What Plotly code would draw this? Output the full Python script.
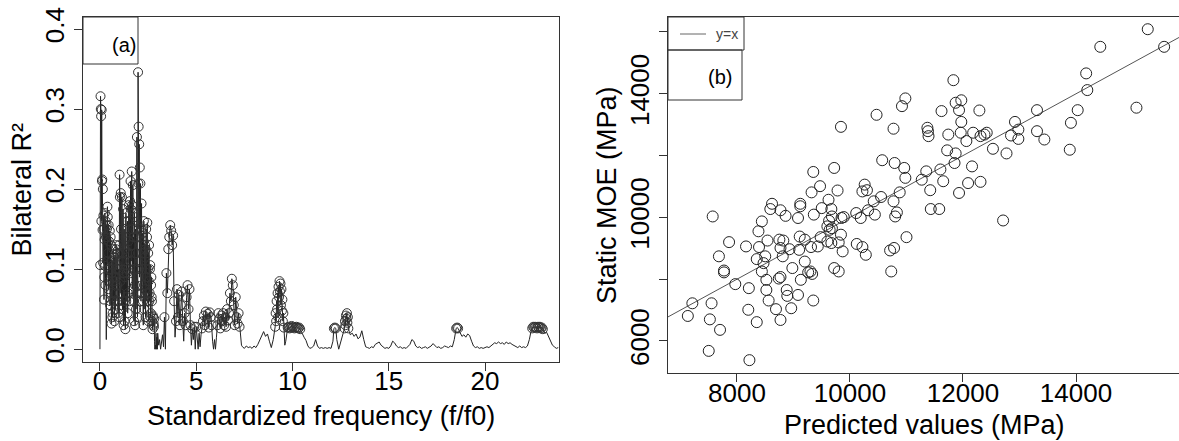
import plotly.graph_objects as go

W, H = 1179, 441
FONT = "Liberation Sans, Arial, sans-serif"

# ---------------- panel (a) data: bilateral R2 vs standardized frequency ----------------
freq_low = [0.00,0.03,0.06,0.09,0.12,0.15,0.18,0.21,0.24,0.27,
            0.30,0.33,0.36,0.39,0.42,0.45,0.48,0.51,0.54,0.57,
            0.60,0.63,0.66,0.69,0.72,0.75,0.78,0.81,0.84,0.87,
            0.90,0.93,0.96,0.99,1.02,1.05,1.08,1.11,1.14,1.17,
            1.20,1.23,1.26,1.29,1.32,1.35,1.38,1.41,1.44,1.47,
            1.50,1.53,1.56,1.59,1.62,1.65,1.68,1.71,1.74,1.77,
            1.80,1.83,1.86,1.89,1.92,1.95,1.98,2.01,2.04,2.07,
            2.10,2.13,2.16,2.19,2.22,2.25,2.28,2.31,2.34,2.37,
            2.40,2.43,2.46,2.49,2.52,2.55,2.58,2.61,2.64,2.67,
            2.70,2.73,2.76,2.79,2.82,2.85,2.88,2.91,2.94,2.97]
r2_low = [0.000,0.316,0.291,0.299,0.212,0.200,0.167,0.062,0.137,0.104,
          0.160,0.012,0.150,0.178,0.120,0.155,0.085,0.148,0.060,0.130,
          0.032,0.110,0.045,0.125,0.090,0.035,0.118,0.070,0.130,0.100,
          0.080,0.120,0.060,0.040,0.218,0.070,0.195,0.110,0.190,0.050,
          0.175,0.030,0.150,0.090,0.025,0.170,0.065,0.120,0.045,0.100,
          0.180,0.060,0.185,0.210,0.110,0.222,0.075,0.205,0.140,0.035,
          0.165,0.030,0.120,0.070,0.265,0.040,0.346,0.278,0.256,0.227,
          0.207,0.060,0.182,0.100,0.145,0.030,0.160,0.080,0.130,0.040,
          0.150,0.060,0.158,0.100,0.035,0.130,0.070,0.105,0.045,0.090,
          0.060,0.025,0.040,0.032,0.038,0.000,0.005,0.020,0.000,0.002]

freq_low_b = [0.015,0.045,0.075,0.105,0.135,0.165,0.195,0.225,0.255,0.285,
              0.315,0.345,0.375,0.405,0.435,0.465,0.495,0.525,0.555,0.585,
              0.615,0.645,0.675,0.705,0.735,0.765,0.795,0.825,0.855,0.885,
              0.915,0.945,0.975,1.005,1.035,1.065,1.095,1.125,1.155,1.185,
              1.215,1.245,1.275,1.305,1.335,1.365,1.395,1.425,1.455,1.485,
              1.515,1.545,1.575,1.605,1.635,1.665,1.695,1.725,1.755,1.785,
              1.815,1.845,1.875,1.905,1.935,1.965,1.995,2.025,2.055,2.085,
              2.115,2.145,2.175,2.205,2.235,2.265,2.295,2.325,2.355,2.385,
              2.415,2.445,2.475,2.505,2.535,2.565,2.595,2.625,2.655,2.685,
              2.715,2.745,2.775,2.805,2.835,2.865,2.895,2.925,2.955,2.985]
r2_low_b = [0.105,0.300,0.160,0.210,0.149,0.108,0.150,0.090,0.170,0.080,
            0.140,0.155,0.110,0.165,0.075,0.135,0.100,0.055,0.140,0.070,
            0.095,0.040,0.105,0.060,0.115,0.085,0.050,0.125,0.090,0.060,
            0.105,0.045,0.100,0.130,0.190,0.085,0.150,0.055,0.120,0.095,
            0.060,0.110,0.035,0.125,0.140,0.060,0.095,0.160,0.070,0.135,
            0.120,0.160,0.095,0.175,0.130,0.180,0.150,0.100,0.060,0.170,
            0.080,0.150,0.050,0.140,0.100,0.070,0.207,0.150,0.090,0.130,
            0.110,0.150,0.070,0.120,0.060,0.135,0.050,0.115,0.075,0.125,
            0.090,0.140,0.070,0.120,0.085,0.060,0.100,0.040,0.080,0.065,
            0.035,0.042,0.030,0.028,0.010,0.002,0.000,0.008,0.015,0.000]

freq_mid = [3.00,3.05,3.10,3.15,3.20,3.25,3.30,3.35,3.40,3.45,
            3.50,3.55,3.60,3.65,3.70,3.75,3.80,3.85,3.90,3.95,
            4.00,4.05,4.10,4.15,4.20,4.25,4.30,4.35,4.40,4.45,
            4.50,4.55,4.60,4.65,4.70,4.75,4.80,4.85,4.90,4.95,
            5.00,5.05,5.10,5.15,5.20,5.25,5.30,5.35,5.40,5.45,
            5.50,5.55,5.60,5.65,5.70,5.75,5.80,5.85,5.90,5.95,
            6.00,6.05,6.10,6.15,6.20,6.25,6.30,6.35,6.40,6.45,
            6.50,6.55,6.60,6.65,6.70,6.75,6.80,6.85,6.90,6.95,
            7.00,7.05,7.10,7.15,7.20,7.25,7.30,7.35]
r2_mid = [0.020,0.005,0.012,0.000,0.010,0.018,0.003,0.040,0.000,0.095,
          0.070,0.125,0.140,0.155,0.148,0.130,0.142,0.060,0.015,0.035,
          0.075,0.040,0.068,0.030,0.055,0.072,0.035,0.010,0.045,0.030,
          0.065,0.080,0.050,0.075,0.030,0.005,0.025,0.012,0.028,0.000,
          0.028,0.010,0.000,0.020,0.003,0.018,0.026,0.035,0.042,0.030,
          0.047,0.038,0.044,0.027,0.046,0.040,0.030,0.010,0.000,0.012,
          0.000,0.015,0.030,0.045,0.038,0.026,0.042,0.035,0.045,0.030,
          0.040,0.028,0.050,0.036,0.045,0.070,0.060,0.088,0.080,0.055,
          0.030,0.065,0.040,0.032,0.045,0.028,0.020,0.005]

freq_high = [7.4,7.5,7.6,7.7,7.8,7.9,8.0,8.1,8.2,8.3,
             8.4,8.5,8.6,8.7,8.8,8.9,9.0,
             9.1,9.125,9.15,9.175,9.2,9.225,9.25,9.275,9.3,9.325,9.35,
             9.375,9.4,9.425,9.45,9.475,9.5,9.525,9.55,9.575,9.6,
             9.65,9.7,9.75,9.8,9.85,9.9,9.95,10.0,10.05,10.1,
             10.15,10.2,10.25,10.3,10.35,10.4,10.5,10.6,10.7,10.8,
             10.9,11.0,11.1,11.2,11.3,11.4,11.5,11.6,11.7,11.8,
             11.9,12.0,12.1,12.15,12.2,12.25,12.3,12.4,12.5,12.6,
             12.7,12.725,12.75,12.775,12.8,12.825,12.85,12.875,12.9,12.95,
             13.0,13.1,13.2,13.3,13.4,13.5,13.6,13.7,13.8,13.9,
             14.0,14.1,14.2,14.3,14.4,14.5,14.6,14.7,14.8,14.9,
             15.0,15.1,15.2,15.3,15.4,15.5,15.6,15.7,15.8,15.9,
             16.0,16.1,16.2,16.3,16.4,16.5,16.6,16.7,16.8,16.9,
             17.0,17.1,17.2,17.3,17.4,17.5,17.6,17.7,17.8,17.9,
             18.0,18.1,18.2,18.3,18.4,18.5,18.55,18.6,18.7,18.8,
             18.9,19.0,19.1,19.2,19.3,19.4,19.5,19.6,19.7,19.8,
             19.9,20.0,20.1,20.2,20.3,20.4,20.5,20.6,20.7,20.8,
             20.9,21.0,21.1,21.2,21.3,21.4,21.5,21.6,21.7,21.8,
             21.9,22.0,22.1,22.2,22.3,22.4,22.45,22.5,22.55,22.6,
             22.65,22.7,22.75,22.8,22.85,22.9,22.95,23.0,23.1,23.2,
             23.3,23.4,23.5,23.6,23.7,23.8]
r2_high = [0.003,0.001,0.004,0.002,0.003,0.001,0.004,0.002,0.006,0.012,
           0.018,0.022,0.016,0.019,0.010,0.002,0.012,
           0.028,0.045,0.035,0.060,0.050,0.070,0.040,0.078,0.065,0.085,0.072,
           0.082,0.055,0.075,0.048,0.062,0.035,0.045,0.027,0.020,0.005,
           0.010,0.022,0.027,0.028,0.026,0.027,0.029,0.027,0.028,0.026,
           0.027,0.028,0.027,0.026,0.027,0.025,0.020,0.015,0.011,0.004,
           0.001,0.002,0.004,0.012,0.004,0.001,0.002,0.001,0.002,0.001,
           0.002,0.001,0.010,0.026,0.027,0.026,0.012,0.000,0.008,0.018,
           0.026,0.035,0.030,0.042,0.038,0.045,0.033,0.040,0.026,0.022,
           0.018,0.020,0.016,0.019,0.013,0.015,0.023,0.012,0.003,0.002,
           0.001,0.003,0.002,0.006,0.008,0.009,0.005,0.003,0.001,0.002,
           0.001,0.004,0.010,0.008,0.004,0.002,0.003,0.001,0.002,0.001,
           0.003,0.006,0.012,0.010,0.004,0.002,0.003,0.001,0.002,0.003,
           0.001,0.002,0.004,0.007,0.005,0.002,0.003,0.001,0.002,0.004,
           0.003,0.002,0.004,0.003,0.012,0.026,0.027,0.026,0.021,0.016,
           0.018,0.015,0.019,0.017,0.010,0.004,0.002,0.003,0.001,0.002,
           0.001,0.002,0.003,0.002,0.004,0.006,0.008,0.007,0.009,0.007,
           0.008,0.006,0.009,0.007,0.008,0.006,0.005,0.003,0.002,0.004,
           0.002,0.003,0.002,0.004,0.012,0.024,0.026,0.028,0.027,0.028,
           0.027,0.026,0.028,0.027,0.028,0.026,0.027,0.025,0.020,0.021,
           0.015,0.010,0.005,0.003,0.001,0.002]

SIG_LEVEL = 0.025   # values at or above this are marked with circles

segments = [(freq_low, r2_low), (freq_low_b, r2_low_b),
            (freq_mid, r2_mid), (freq_high, r2_high)]
for a, b in segments:
    if len(a) != len(b):
        raise ValueError(f"length mismatch {len(a)} vs {len(b)}")

pairs = sorted(p for a, b in segments for p in zip(a, b))
freq = [p[0] for p in pairs]
r2 = [p[1] for p in pairs]
sig_f = [f for f, r in pairs if r >= SIG_LEVEL]
sig_r = [r for f, r in pairs if r >= SIG_LEVEL]

a_xticks = [0, 5, 10, 15, 20]
a_yticks = [0.0, 0.1, 0.2, 0.3, 0.4]

# ---------------- panel (b) data: static MOE vs predicted ----------------
predicted = [15270,14430,15560,14180,14200,15070,14030,13910,13890,13310,
             13310,13440,12920,12980,12980,12850,12770,12530,12710,12290,
             12420,12380,12310,12180,12060,12160,12090,12310,11830,11970,
             11870,11930,11970,11960,11740,11620,11720,11870,11850,11600,
             11650,11930,11370,11380,11390,11350,11270,11420,11430,11580,
             10980,10920,10770,10470,9840,10570,10790,10960,10980,10880,
             10550,10420,10770,10830,10800,10440,10320,10260,10300,10220,
             10110,10190,9720,9780,9620,9670,9350,9470,9320,9120,
             9120,8620,8590,8770,8860,9080,9360,9500,9680,9630,
             9850,9890,9640,9600,9680,9840,9800,9670,9600,9480,
             9430,9310,9110,9200,9100,9200,8980,9300,9330,9260,
             9130,9080,9350,8960,8890,8880,8770,8690,8560,8520,
             8520,8740,8770,8810,8770,8930,8750,8820,9870,9720,
             9800,10120,10220,10280,10710,10780,10730,11000,8440,8380,
             8390,8540,8500,8470,8350,8440,8160,8210,8200,8350,
             8220,7860,7680,7770,7770,7970,7570,7550,7520,7700,
             7500,7210,7130]
static_moe = [16090,15520,15520,14660,14120,13550,13470,13060,12190,13470,
              12790,12520,13090,12840,12540,12650,12070,12220,9900,13460,
              12740,12680,12630,12740,12470,11650,11110,11150,14440,13790,
              13710,13470,13090,12740,12680,13440,12170,12070,11760,11550,
              11170,10790,12900,12790,12630,11490,11220,10880,10270,10270,
              13850,13600,12870,13320,12930,11850,11760,11600,11280,10810,
              10660,10520,10520,10160,10030,10090,10230,11060,10880,10840,
              10140,9980,11600,10870,10570,10270,11470,11010,10810,10440,
              10360,10440,10270,10230,10050,9980,10090,10300,10030,9890,
              9980,10010,9600,9710,9650,9440,9190,9170,9220,9360,
              9060,9040,9380,9280,8950,8570,8360,8250,8170,8220,
              7980,7490,7310,7060,7460,7650,6680,7030,7310,7650,
              7980,8020,8070,8740,9010,8970,9280,9250,8900,8360,
              8250,9140,9040,8790,8930,9010,8250,9360,9870,9550,
              9040,9250,8740,8520,8650,8250,9060,7710,7010,6610,
              5380,9200,8740,8280,8220,7840,10030,7220,6700,6360,
              5680,7220,6810]
if len(predicted) != len(static_moe):
    raise ValueError(f"length mismatch {len(predicted)} vs {len(static_moe)}")

b_xticks = [8000, 10000, 12000, 14000]
b_yticks = [6000, 8000, 10000, 12000, 14000, 16000]
b_ytext = ["6000", "", "10000", "", "14000", ""]
yx_line = [6000, 17000]

# ---------------- layout geometry (pixels) ----------------
A_L, A_R, A_T, A_B = 83, 559, 17, 362
B_L, B_R, B_T, B_B = 668, 1179, 17, 373

def px(x):
    return x / W

def py(y):
    return 1 - y / H

INK = "#333333"

fig = go.Figure()
fig.add_trace(go.Scatter(x=freq, y=r2, mode="lines",
                         line=dict(color="#222222", width=1),
                         xaxis="x", yaxis="y", showlegend=False, hoverinfo="skip"))
fig.add_trace(go.Scatter(x=sig_f, y=sig_r, mode="markers",
                         marker=dict(symbol="circle-open", size=9,
                                     color="#333333", line=dict(width=1)),
                         xaxis="x", yaxis="y", showlegend=False))
fig.add_trace(go.Scatter(x=yx_line, y=yx_line, mode="lines",
                         line=dict(color="#555555", width=1),
                         xaxis="x2", yaxis="y2", showlegend=False))
fig.add_trace(go.Scatter(x=predicted, y=static_moe, mode="markers",
                         marker=dict(symbol="circle-open", size=11,
                                     color="#222222", line=dict(width=1)),
                         xaxis="x2", yaxis="y2", showlegend=False))

axis_common = dict(showgrid=False, zeroline=False, ticks="outside", ticklen=8,
                   tickwidth=1, tickcolor=INK, linecolor=INK, linewidth=1,
                   showline=True, automargin=False,
                   tickfont=dict(family=FONT, size=26, color="black"))

fig.update_layout(
    template="none",
    width=W, height=H, margin=dict(l=0, r=0, t=0, b=0, pad=0),
    paper_bgcolor="white", plot_bgcolor="white",
    font=dict(family=FONT, color="black"),
    xaxis=dict(domain=[px(A_L), px(A_R)], range=[-0.88, 23.84],
               tickvals=a_xticks, ticktext=[str(t) for t in a_xticks],
               mirror=True, anchor="y", ticklabelstandoff=-12, **axis_common),
    yaxis=dict(domain=[py(A_B), py(A_T)], range=[-0.016, 0.415],
               tickvals=a_yticks, ticktext=[f"{t:.1f}" for t in a_yticks],
               tickangle=-90, mirror=True, anchor="x", **axis_common),
    xaxis2=dict(domain=[px(B_L), 1.0], range=[6779, 15823],
                tickvals=b_xticks, ticktext=[str(t) for t in b_xticks],
                mirror=True, anchor="y2", ticklabelstandoff=-11, **axis_common),
    yaxis2=dict(domain=[py(B_B), py(B_T)], range=[4964, 16485],
                tickvals=b_yticks, ticktext=b_ytext,
                tickangle=-90, mirror=False, anchor="x2", **axis_common),
)

shapes = [
    # (a) label box
    dict(type="rect", xref="paper", yref="paper", x0=px(A_L), x1=px(138),
         y0=py(64), y1=py(A_T), line=dict(color=INK, width=1)),
    # y=x legend box
    dict(type="rect", xref="paper", yref="paper", x0=px(B_L), x1=px(744),
         y0=py(50), y1=py(B_T), line=dict(color=INK, width=1)),
    # (b) label box
    dict(type="rect", xref="paper", yref="paper", x0=px(B_L), x1=px(742),
         y0=py(100), y1=py(50), line=dict(color=INK, width=1)),
    # legend line sample
    dict(type="line", xref="paper", yref="paper", x0=px(680), x1=px(706),
         y0=py(34), y1=py(34), line=dict(color="#666666", width=1)),
]
fig.update_layout(shapes=shapes)

ann = [
    dict(text="(a)", x=px(123.5), y=py(45), font=dict(size=20)),
    dict(text="(b)", x=px(719.5), y=py(77), font=dict(size=20)),
    dict(text="y=x", x=px(726.5), y=py(34), font=dict(size=14, color="#444444")),
    dict(text="Standardized frequency (f/f0)", x=px((A_L + A_R) / 2), y=py(416),
         font=dict(size=27)),
    dict(text="Predicted values (MPa)", x=px(924), y=py(425), font=dict(size=27)),
    dict(text="Bilateral R²", x=px(21), y=py((A_T + A_B) / 2), textangle=-90,
         font=dict(size=27)),
    dict(text="Static MOE (MPa)", x=px(607), y=py((B_T + B_B) / 2), textangle=-90,
         font=dict(size=27)),
]
for a in ann:
    a.update(xref="paper", yref="paper", showarrow=False,
             xanchor="center", yanchor="middle")
    a["font"] = dict(family=FONT, color=a["font"].get("color", "black"),
                     size=a["font"]["size"])
fig.update_layout(annotations=ann)

fig.write_html("out.html", config={"displayModeBar": False},
               post_script="document.body.style.margin='0px';"
                           "document.body.style.overflow='hidden';")
